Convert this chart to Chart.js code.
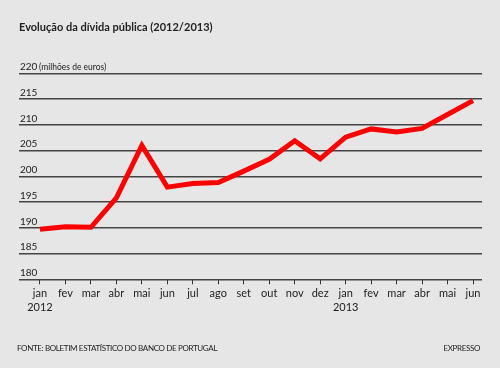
<!DOCTYPE html>
<html>
<head>
<meta charset="utf-8">
<script src="https://cdn.jsdelivr.net/npm/chart.js@4"></script>
<style>
  body { margin: 0; background: #e6e6e6; }
  #wrap { position: relative; width: 500px; height: 368px; }
  .foot { position: absolute; top: 343px; font-family: Lato, sans-serif; font-size: 8px; color: #222; letter-spacing: -0.35px; }
</style>
</head>
<body>
<div id="wrap">
  <canvas id="chart" width="500" height="368"></canvas>
  <div class="foot" style="left:17px">FONTE: BOLETIM ESTATÍSTICO DO BANCO DE PORTUGAL</div>
  <div class="foot" style="right:20px">EXPRESSO</div>
</div>
<script>
// months jan 2012 .. jun 2013
var months = ['jan', 'fev', 'mar', 'abr', 'mai', 'jun', 'jul', 'ago', 'set', 'out', 'nov', 'dez',
              'jan', 'fev', 'mar', 'abr', 'mai', 'jun'];
var years = { 0: '2012', 12: '2013' };
// dívida pública (values as plotted on the axis)
var debt = [189.7, 190.2, 190.1, 195.8, 206.0, 197.9, 198.6, 198.8, 201.0, 203.3, 206.9, 203.4,
            207.6, 209.2, 208.6, 209.3, 212.0, 214.7];
var yTicks = [180, 185, 190, 195, 200, 205, 210, 215, 220];

var points = debt.map(function (v, i) { return { x: i, y: v }; });

// background + unit label next to the top tick
var extras = {
  id: 'extras',
  beforeDraw: function (chart) {
    var ctx = chart.ctx;
    ctx.save();
    ctx.fillStyle = '#e6e6e6';
    ctx.fillRect(0, 0, chart.width, chart.height);
    ctx.restore();
  },
  afterDraw: function (chart) {
    var ctx = chart.ctx;
    var y = chart.scales.y.getPixelForValue(220) - 6.5;
    ctx.save();
    ctx.font = '8.5px Lato';
    ctx.fillStyle = '#222';
    ctx.textBaseline = 'middle';
    ctx.fillText('(milhões de euros)', chart.chartArea.left + 20, y);
    ctx.restore();
  }
};

var ctx = document.getElementById('chart').getContext('2d');
var chart = new Chart(ctx, {
  type: 'line',
  data: {
    datasets: [{
      data: points,
      borderColor: '#ff0000',
      borderWidth: 5,
      borderJoinStyle: 'miter',
      pointRadius: 0,
      fill: false,
      tension: 0
    }]
  },
  options: {
    responsive: false,
    animation: false,
    layout: { padding: { left: 19, right: 18, top: 0, bottom: 0 } },
    plugins: {
      legend: { display: false },
      tooltip: { enabled: false },
      title: {
        display: true,
        text: 'Evolução da dívida pública (2012/2013)',
        align: 'start',
        color: '#222',
        font: { family: 'Lato', size: 11, weight: 'bold' },
        padding: { top: 20.5, bottom: 39.6 }
      }
    },
    scales: {
      x: {
        type: 'linear',
        min: -0.824,
        max: 17.353,
        border: { display: false },
        grid: { drawOnChartArea: false, drawTicks: true, tickLength: 5, color: '#333', tickWidth: 1 },
        afterBuildTicks: function (scale) {
          scale.ticks = months.map(function (m, i) { return { value: i }; });
        },
        afterFit: function (scale) {
          scale.height = 88.7;
          scale.paddingLeft = 0;
          scale.paddingRight = 0;
        },
        ticks: {
          autoSkip: false,
          maxRotation: 0,
          padding: 3,
          color: '#222',
          font: { family: 'Lato', size: 11 },
          callback: function (value) {
            var m = months[value];
            return years[value] ? [m, years[value]] : m;
          }
        }
      },
      y: {
        min: 180,
        max: 220,
        border: { display: false },
        grid: { color: '#444', lineWidth: 1.6, drawTicks: false, tickLength: 0 },
        afterBuildTicks: function (scale) {
          scale.ticks = yTicks.map(function (v) { return { value: v }; });
        },
        afterFit: function (scale) {
          scale.width = 0;
          scale.paddingTop = 0;
          scale.paddingBottom = 0;
        },
        ticks: {
          mirror: true,
          padding: 1,
          labelOffset: -6.5,
          color: '#222',
          font: { family: 'Lato', size: 10 }
        }
      }
    }
  },
  plugins: [extras]
});
</script>
</body>
</html>
